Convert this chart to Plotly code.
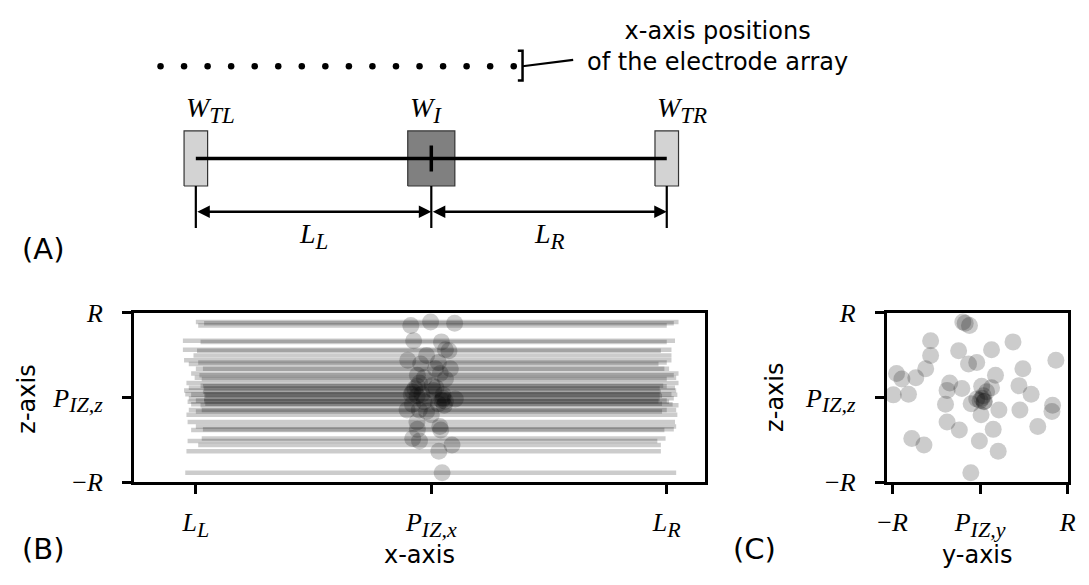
import plotly.graph_objects as go

# ------------------------------------------------------------------
# Data: innervation-zone samples (x in units of L, y/z in units of R)
# ------------------------------------------------------------------
iz_z = [0.891, 0.875, 0.850, 0.670, 0.656, 0.562, 0.551, 0.495, 0.439, 0.394,
        0.413, 0.338, 0.338, 0.282, 0.263, 0.233, 0.219, 0.170, 0.140, 0.132,
        0.114, 0.106, 0.084, 0.069, 0.039, 0.039, 0.031, 0.020, -0.008, -0.017,
        -0.036, -0.043, -0.050, -0.073, -0.080, -0.092, -0.148, -0.148, -0.166, -0.204,
        -0.290, -0.342, -0.376, -0.383, -0.484, -0.514, -0.559, -0.634, -0.888]
iz_y = [-0.197, -0.170, -0.121, -0.565, 0.376, 0.131, -0.245, -0.565, 0.866, -0.132,
        -0.038, -0.621, 0.489, -0.954, 0.176, -0.734, -0.893, -0.347, 0.444, 0.018,
        0.131, -0.208, -0.377, 0.075, -0.818, 0.583, -0.991, 0.037, 0.020, -0.038,
        0.000, 0.049, 0.045, -0.102, -0.395, 0.828, 0.215, 0.455, 0.821, 0.011,
        -0.377, 0.659, 0.150, -0.237, -0.780, -0.008, -0.641, 0.207, -0.106]
iz_x = [-0.003, 0.099, -0.087, -0.075, 0.043, 0.060, 0.075, -0.020, -0.100, -0.045,
        0.030, 0.018, 0.081, 0.038, -0.059, -0.030, 0.060, -0.050, 0.004, -0.059,
        0.020, -0.070, 0.010, -0.079, -0.085, -0.040, 0.050, -0.060, 0.050, 0.102,
        0.045, 0.060, -0.030, 0.030, -0.080, 0.055, -0.103, -0.051, -0.020, 0.000,
        -0.061, 0.036, -0.059, 0.040, -0.079, -0.050, 0.088, 0.032, 0.046]
fiber_left = [-1.000, -0.965, -0.990, -1.055, -0.980, -1.055, -0.995, -1.010, -1.050, -1.030,
              -0.990, -1.000, -0.970, -1.020, -0.985, -1.005, -0.975, -1.040, -0.980, -0.970,
              -1.030, -0.965, -1.050, -0.970, -1.045, -0.965, -1.020, -0.960, -1.030, -0.965,
              -1.000, -0.965, -1.035, -0.960, -1.020, -0.980, -1.030, -0.975, -1.000, -1.040,
              -1.035, -1.000, -0.970, -1.020, -0.975, -1.035, -0.990, -1.040, -1.045]
fiber_right = [1.050, 1.030, 1.000, 1.035, 1.000, 1.020, 0.975, 1.020, 1.020, 0.965,
               1.000, 1.010, 0.990, 1.050, 1.030, 1.040, 1.000, 1.050, 0.985, 1.000,
               1.035, 0.970, 1.040, 0.975, 1.020, 0.970, 1.045, 0.980, 1.030, 0.970,
               1.000, 0.965, 1.010, 0.980, 1.025, 1.050, 1.000, 1.040, 0.980, 1.045,
               1.035, 1.040, 1.030, 0.990, 0.995, 0.960, 0.975, 0.975, 1.040]

# Panel A schematic values
electrode_x = [-1.15, -1.05, -0.95, -0.85, -0.75, -0.65, -0.55, -0.45,
               -0.35, -0.25, -0.15, -0.05, 0.05, 0.15, 0.25, 0.35]
zone_x = [-1.0, 0.0, 1.0]
zone_w = [0.1, 0.2, 0.1]
zone_sub = ["TL", "I", "TR"]
length_sub = ["L", "R"]


def math(main, sub=None, sub_px=22):
    s = f"<i>{main}</i>"
    if sub:
        s += f"<sub><span style='font-size:{sub_px}px'><i>{sub}</i></span></sub>"
    return s


# Tick labels
b_x_ticks = [math("L", "L"), math("P", "IZ,x"), math("L", "R")]
z_ticks = ["\u2212" + math("R"), math("P", "IZ,z"), math("R")]
c_x_ticks = ["\u2212" + math("R"), math("P", "IZ,y"), math("R")]

# ------------------------------------------------------------------
W, H = 1089, 585
def px(v): return v / W
def py(v): return 1 - v / H

MATH = dict(family="Liberation Serif", size=26, color="black")
MATH_A = dict(family="Liberation Serif", size=28, color="black")
SANS = "DejaVu Sans"
DOT_COLOR = "rgba(0,0,0,0.2)"

fig = go.Figure()

# ---- Panel B: fibres and innervation points ----
for zl, xl, xr in zip(iz_z, fiber_left, fiber_right):
    fig.add_trace(go.Scatter(x=[xl, xr], y=[zl, zl], mode="lines",
                             line=dict(color=DOT_COLOR, width=4.5),
                             xaxis="x", yaxis="y", hoverinfo="skip"))
fig.add_trace(go.Scatter(x=iz_x, y=iz_z, mode="markers",
                         marker=dict(size=17, color=DOT_COLOR, line=dict(width=0)),
                         xaxis="x", yaxis="y"))

# ---- Panel C ----
fig.add_trace(go.Scatter(x=iz_y, y=iz_z, mode="markers",
                         marker=dict(size=17, color=DOT_COLOR, line=dict(width=0)),
                         xaxis="x2", yaxis="y2"))

# ---- Panel A: schematic ----
fills = ["#d3d3d3", "#808080", "#d3d3d3"]
for c, w, f in zip(zone_x, zone_w, fills):
    fig.add_trace(go.Scatter(x=[c - w / 2, c + w / 2, c + w / 2, c - w / 2, c - w / 2],
                             y=[-1, -1, 1, 1, -1], mode="lines", fill="toself",
                             fillcolor=f, line=dict(color="#333333", width=1.2),
                             xaxis="x3", yaxis="y3"))
fig.add_trace(go.Scatter(x=[zone_x[0], zone_x[-1]], y=[0, 0], mode="lines",
                         line=dict(color="black", width=3.5), xaxis="x3", yaxis="y3"))
fig.add_trace(go.Scatter(x=[zone_x[1], zone_x[1]], y=[-0.47, 0.47], mode="lines",
                         line=dict(color="black", width=3.5), xaxis="x3", yaxis="y3"))
for c in zone_x:
    fig.add_trace(go.Scatter(x=[c, c], y=[-1, -2.52], mode="lines",
                             line=dict(color="black", width=2.2), xaxis="x3", yaxis="y3"))
# electrodes
elec_y = 3.345
fig.add_trace(go.Scatter(x=electrode_x, y=[elec_y] * len(electrode_x), mode="markers",
                         marker=dict(size=6.5, color="black"), xaxis="x3", yaxis="y3"))
# bracket + pointer
bx = electrode_x[-1] + 0.0375
fig.add_trace(go.Scatter(x=[bx - 0.02, bx, bx, bx - 0.02], y=[elec_y + 0.56, elec_y + 0.56, elec_y - 0.52, elec_y - 0.52],
                         mode="lines", line=dict(color="black", width=2.5), xaxis="x3", yaxis="y3"))
fig.add_trace(go.Scatter(x=[bx, bx + 0.215], y=[elec_y, elec_y + 0.23], mode="lines",
                         line=dict(color="black", width=2.2), xaxis="x3", yaxis="y3"))

annotations = []
# double arrows
arrow_y = -1.93
for a, b in zip(zone_x[:-1], zone_x[1:]):
    annotations.append(dict(x=b, y=arrow_y, ax=a, ay=arrow_y, xref="x3", yref="y3",
                            axref="x3", ayref="y3", text="", showarrow=True,
                            arrowhead=2, startarrowhead=2, arrowside="end+start",
                            arrowsize=1, arrowwidth=2.5, arrowcolor="black",
                            standoff=0, startstandoff=0))
# zone labels
for c, w, s in zip(zone_x, zone_w, zone_sub):
    annotations.append(dict(x=c - w / 2, y=1.05, xref="x3", yref="y3", xanchor="left",
                            yanchor="bottom", showarrow=False,
                            text=math("W", s, 23), font=MATH_A))
for a, b, s in zip(zone_x[:-1], zone_x[1:], length_sub):
    annotations.append(dict(x=(a + b) / 2, y=-2.1, xref="x3", yref="y3", xanchor="center",
                            yanchor="top", showarrow=False,
                            text=math("L", s, 23), font=MATH_A))

def txt(t, x, y, size=24, angle=0, xanchor="center"):
    annotations.append(dict(text=t, x=px(x), y=py(y), xref="paper", yref="paper",
                            xanchor=xanchor, yanchor="middle", showarrow=False, textangle=angle,
                            font=dict(family=SANS, size=size, color="black")))

txt("x-axis positions<br>of the electrode array", 585, 34, xanchor="left")
txt("(A)", 35, 247, size=29)
txt("(B)", 35, 563, size=29)
txt("(C)", 757, 563, size=29)
txt("x-axis", 416.7, 569)
txt("y-axis", 983.5, 569)
txt("z-axis", 18, 405, angle=-90)
txt("z-axis", 778, 403, angle=-90)

axis_style = dict(showline=True, linecolor="black", linewidth=2.5, mirror=True,
                  ticks="outside", ticklen=9, tickwidth=2.5, tickcolor="black",
                  showgrid=False, zeroline=False, tickfont=MATH)
xs = dict(ticklabelstandoff=6, **axis_style)
ys = dict(ticklabelstandoff=14, **axis_style)

b_xdom = [px(126.7), px(706.7)]
b_ydom = [py(492.7), py(314.3)]
b_xrange = [-1.2638, 1.161]

fig.update_layout(
    width=W, height=H, margin=dict(l=0, r=0, t=0, b=0),
    paper_bgcolor="white", plot_bgcolor="rgba(0,0,0,0)", showlegend=False,
    xaxis=dict(domain=b_xdom, range=b_xrange, anchor="y", tickvals=zone_x,
               ticktext=b_x_ticks, **xs),
    yaxis=dict(domain=b_ydom, range=[-1, 1], anchor="x", tickvals=[-1, 0, 1],
               ticktext=z_ticks, **ys),
    xaxis2=dict(domain=[px(891.5), px(1075.5)], range=[-1.068, 1.001], anchor="y2",
                tickvals=[-1, 0, 1], ticktext=c_x_ticks, **xs),
    yaxis2=dict(domain=b_ydom, range=[-1, 1], anchor="x2", tickvals=[-1, 0, 1],
                ticktext=z_ticks, **ys),
    xaxis3=dict(domain=b_xdom, range=b_xrange, anchor="y3", visible=False),
    yaxis3=dict(domain=[py(270), 1], range=[-4.069, 5.241], anchor="x3", visible=False),
    annotations=annotations,
)

fig.write_html("out.html")
